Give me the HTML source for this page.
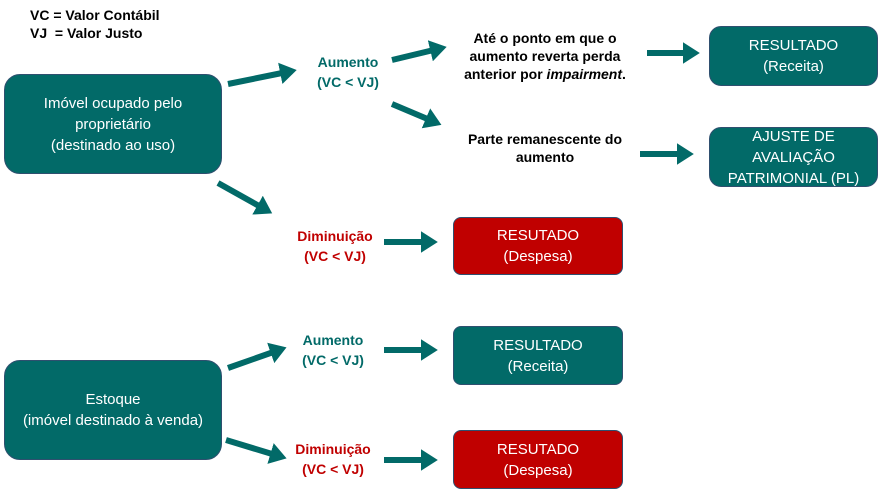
<!DOCTYPE html>
<html><head><meta charset="utf-8"><style>
body{margin:0;width:883px;height:493px;background:#fff;position:relative;overflow:hidden;font-family:"Liberation Sans",sans-serif}
.b{position:absolute;display:flex;align-items:center;justify-content:center;text-align:center;color:#fff;font-size:15px;line-height:21px;box-sizing:border-box;border:1.5px solid #2f4f6f}
.t{background:#026a68;border-radius:12px}
.r{background:#c00000;border-radius:8px}
.tx{position:absolute;text-align:center;font-weight:bold;font-size:14px;line-height:20px;transform:translate(-50%,-50%);white-space:nowrap}
.g{color:#026a68}.rd{color:#c00000}
svg{position:absolute;left:0;top:0}
</style></head><body>
<div style="position:absolute;left:30px;top:6px;font-weight:bold;font-size:14px;line-height:18px">VC = Valor Contábil<br>VJ&nbsp; = Valor Justo</div>
<div class="b t" style="left:4px;top:74px;width:218px;height:100px;border-radius:16px">Imóvel ocupado pelo<br>proprietário<br>(destinado ao uso)</div>
<div class="b t" style="left:4px;top:360px;width:218px;height:100px;border-radius:16px">Estoque<br>(imóvel destinado à venda)</div>
<div class="b t" style="left:709px;top:26px;width:169px;height:60px">RESULTADO<br>(Receita)</div>
<div class="b t" style="left:709px;top:127px;width:169px;height:60px">AJUSTE DE<br>AVALIAÇÃO<br>PATRIMONIAL (PL)</div>
<div class="b r" style="left:453px;top:217px;width:170px;height:58px">RESUTADO<br>(Despesa)</div>
<div class="b t" style="left:453px;top:326px;width:170px;height:59px;border-radius:8px">RESULTADO<br>(Receita)</div>
<div class="b r" style="left:453px;top:430px;width:170px;height:59px">RESUTADO<br>(Despesa)</div>
<div class="tx g" style="left:348px;top:72px">Aumento<br>(VC &lt; VJ)</div>
<div class="tx rd" style="left:335px;top:246px">Diminuição<br>(VC &lt; VJ)</div>
<div class="tx g" style="left:333px;top:350px">Aumento<br>(VC &lt; VJ)</div>
<div class="tx rd" style="left:333px;top:459px">Diminuição<br>(VC &lt; VJ)</div>
<div class="tx" style="left:545px;top:56px;line-height:18px">Até o ponto em que o<br>aumento reverta perda<br>anterior por <i>impairment</i>.</div>
<div class="tx" style="left:545px;top:148px;line-height:18px">Parte remanescente do<br>aumento</div>
<svg width="883" height="493">
<defs><marker id="a" markerWidth="4" markerHeight="4" refX="2" refY="2" orient="auto" markerUnits="strokeWidth"><path d="M0,0.2L2.8,2L0,3.8z" fill="#026a68"/></marker></defs>
<g stroke="#026a68" stroke-width="6" marker-end="url(#a)">
<line x1="228" y1="84" x2="292" y2="71"/>
<line x1="392" y1="60" x2="442" y2="48"/>
<line x1="392" y1="104" x2="437" y2="123"/>
<line x1="647" y1="53" x2="695" y2="53"/>
<line x1="640" y1="154" x2="689" y2="154"/>
<line x1="218" y1="183" x2="268" y2="211"/>
<line x1="384" y1="242" x2="433" y2="242"/>
<line x1="228" y1="368" x2="282" y2="349"/>
<line x1="384" y1="350" x2="433" y2="350"/>
<line x1="226" y1="440" x2="282" y2="457"/>
<line x1="384" y1="460" x2="433" y2="460"/>
</g></svg>
</body></html>
